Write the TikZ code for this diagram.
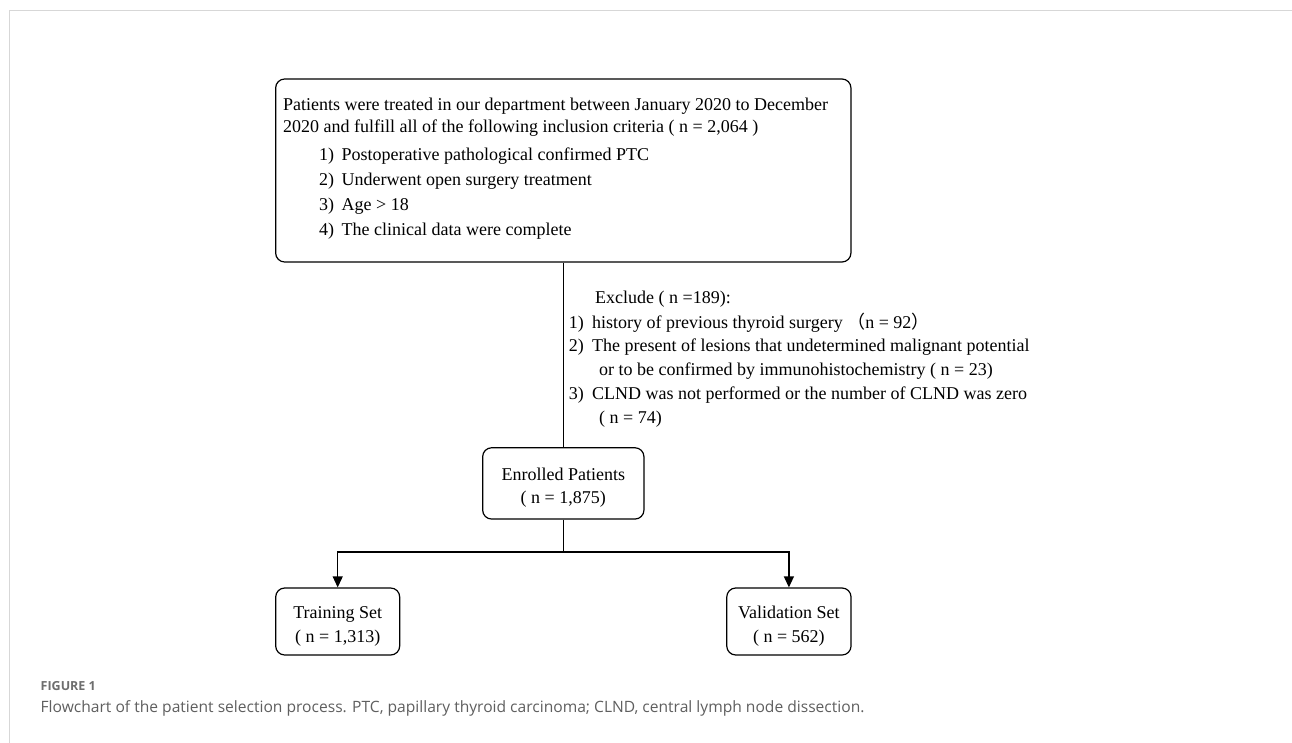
\documentclass[tikz,border=0pt]{standalone}
\usepackage{fontspec}
\setmainfont{Liberation Serif}
\newfontfamily\capfont{Open Sans}
\newfontfamily\cjk{Noto Sans CJK SC}
\usetikzlibrary{arrows.meta}
\definecolor{framegray}{RGB}{215,215,215}
\definecolor{capgray}{RGB}{95,95,95}
\definecolor{figgray}{RGB}{110,110,110}
\begin{document}
\begin{tikzpicture}[x=1pt,y=-1pt,
  box/.style={draw, line width=1.2pt, rounded corners=9pt, inner sep=0pt},
  txt/.style={anchor=base west, inner sep=0pt, font=\fontsize{18}{22}\selectfont},
  ctxt/.style={anchor=base, inner sep=0pt, font=\fontsize{18}{22}\selectfont},
  link/.style={line width=1.2pt},
  arr/.style={link, -{Triangle[width=10pt,length=11pt]}}]
\useasboundingbox (0,0) rectangle (1292,743);
\fill[white] (0,0) rectangle (1292,743);
% frame
\draw[framegray, line width=1.5pt] (1292,10.5) -- (9.5,10.5) -- (9.5,743);
% boxes
\node[box, minimum width=575.3pt, minimum height=183pt] (top) at (563.3,170.5) {};
\node[box, minimum width=161.3pt, minimum height=71.3pt] (enr) at (563.3,483.4) {};
\node[box, minimum width=124pt, minimum height=67pt] (train) at (337.7,621.5) {};
\node[box, minimum width=124.3pt, minimum height=67pt] (valid) at (788.9,621.5) {};
% top box text
\node[txt] (t1) at (283,111) {Patients were treated in our department between January 2020 to December};
\node[txt] (t2) at (283,133) {2020 and fulfill all of the following inclusion criteria ( n = 2,064 )};
\node[txt] (n1) at (319,161) {1)};
\node[txt] (i1) at (341.5,161) {Postoperative pathological confirmed PTC};
\node[txt] (n2) at (319,186) {2)};
\node[txt] (i2) at (341.5,186) {Underwent open surgery treatment};
\node[txt] (n3) at (319,211) {3)};
\node[txt] (i3) at (341.5,211) {Age > 18};
\node[txt] (n4) at (319,236) {4)};
\node[txt] (i4) at (341.5,236) {The clinical data were complete};
% exclusion text
\node[txt] (ex) at (595,303) {Exclude ( n =189):};
\node[txt] (e1n) at (568.6,328) {1)};
\node[txt] (e1) at (592,328) {history of previous thyroid surgery {\cjk （}n = 92{\cjk ）}};
\node[txt] (e2n) at (568.6,351) {2)};
\node[txt] (e2) at (592,351) {The present of lesions that undetermined malignant potential};
\node[txt] (e2b) at (599,375) {or to be confirmed by immunohistochemistry ( n = 23)};
\node[txt] (e3n) at (568.6,399) {3)};
\node[txt] (e3) at (592,399) {CLND was not performed or the number of CLND was zero};
\node[txt] (e3b) at (599,423) {( n = 74)};
% small box text
\node[ctxt] (enr1) at (563.3,480) {Enrolled Patients};
\node[ctxt] (enr2) at (563.3,503) {( n = 1,875)};
\node[ctxt] (tr1) at (337.7,618) {Training Set};
\node[ctxt] (tr2) at (337.7,642) {( n = 1,313)};
\node[ctxt] (va1) at (788.9,618) {Validation Set};
\node[ctxt] (va2) at (788.9,642) {( n = 562)};
% connectors
\coordinate (split) at (563.3,552);
\draw[link] (top.south) -- (enr.north);
\draw[link] (enr.south) -- (split);
\draw[arr] (split) -| (train.north);
\draw[arr] (split) -| (valid.north);
% caption
\node[anchor=base west, inner sep=0pt, text=figgray, font=\capfont\bfseries\fontsize{12.5}{14}\selectfont] (fig) at (40.5,690.5) {FIGURE 1};
\node[anchor=base west, inner sep=0pt, text=capgray, font=\capfont\fontsize{15.6}{18}\selectfont] (cap) at (40.5,712) {Flowchart of the patient selection process. PTC, papillary thyroid carcinoma; CLND, central lymph node dissection.};
\end{tikzpicture}
\end{document}
